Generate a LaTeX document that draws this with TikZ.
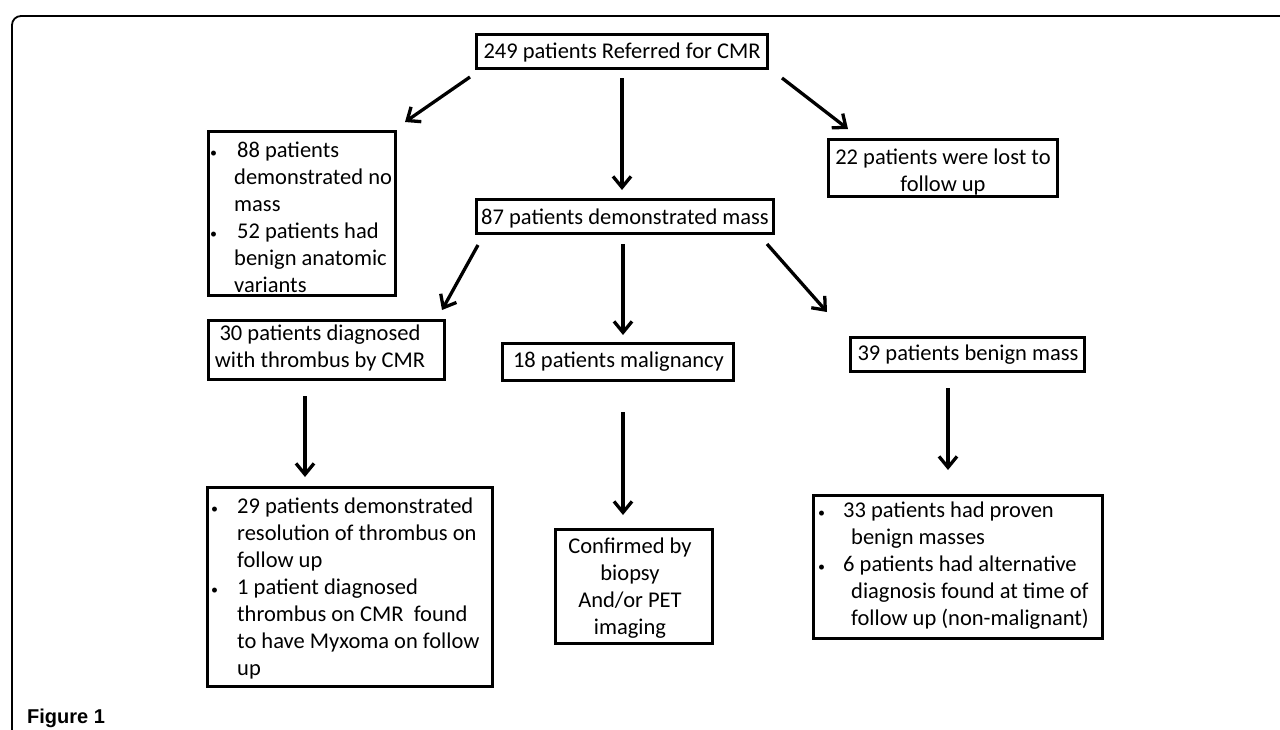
\documentclass[tikz,border=0pt]{standalone}
\usepackage{fontspec}
\setmainfont{Carlito}
\newfontfamily\figfont{Liberation Sans}
\usetikzlibrary{arrows.meta}
\newcommand\bul[1]{\llap{\makebox[#1][l]{\fontsize{14}{14}\selectfont\textbullet}}}
\begin{document}
\begin{tikzpicture}[x=1pt,y=-1pt,
  box/.style={draw=black,line width=3pt,inner sep=0pt,rectangle},
  txt/.style={inner sep=0pt,font=\fontsize{22.5}{27}\selectfont,text=black},
  arr/.style={line width=3.3pt,-{Straight Barb[length=11pt,width=18pt]}},
  frame/.style={line width=1.8pt,rounded corners=9pt}]
\useasboundingbox[fill=white] (0,0) rectangle (1280,729);
% outer frame
\draw[frame] (12,740) -- (12,16) -- (1290,16);
% boxes
\node[box,minimum width=291pt,minimum height=34pt] (top) at (622,51.5) {};
\node[box,minimum width=187pt,minimum height=164pt] (nomass) at (302,213.5) {};
\node[box,minimum width=229pt,minimum height=57pt] (lost) at (943,168) {};
\node[box,minimum width=297pt,minimum height=34pt] (mass) at (625,216.5) {};
\node[box,minimum width=236pt,minimum height=59pt] (thromb) at (326.5,350) {};
\node[box,minimum width=231pt,minimum height=37pt] (malig) at (618,362) {};
\node[box,minimum width=234pt,minimum height=34pt] (benign) at (967.5,354.5) {};
\node[box,minimum width=285pt,minimum height=199pt] (res) at (350,587) {};
\node[box,minimum width=157pt,minimum height=114pt] (conf) at (634,586.5) {};
\node[box,minimum width=289pt,minimum height=143pt] (proven) at (958,567) {};
% texts
\node[txt,anchor=base] (top-t) at (622,58.5) {249 patients Referred for CMR};
\node[txt,anchor=base] (mass-t) at (625,224) {87 patients demonstrated mass};
\node[txt,anchor=base] (lost-t) at (943,164) {\begin{tabular}[t]{@{}c@{}}22 patients were lost to\\follow up\end{tabular}};
\node[txt,anchor=base] (thromb-t) at (320,340.5) {\begin{tabular}[t]{@{}c@{}}30 patients diagnosed\\with thrombus by CMR\end{tabular}};
\node[txt,anchor=base] (malig-t) at (618.5,367) {18 patients malignancy};
\node[txt,anchor=base] (benign-t) at (968,360) {39 patients benign mass};
\node[txt,anchor=base] (conf-t) at (630,553) {\begin{tabular}[t]{@{}c@{}}Confirmed by\\biopsy\\And/or PET\\imaging\end{tabular}};
\node[txt,anchor=base west] (nomass-t) at (234,157) {\begin{tabular}[t]{@{}l@{}}\bul{24pt}\hspace{3pt}88 patients\\demonstrated no\\mass\\\bul{24pt}\hspace{3pt}52 patients had\\benign anatomic\\variants\end{tabular}};
\node[txt,anchor=base west] (res-t) at (237,513) {\begin{tabular}[t]{@{}l@{}}\bul{26pt}29 patients demonstrated\\resolution of thrombus on\\follow up\\\bul{26pt}1 patient diagnosed\\thrombus on CMR\ \ found\\to have Myxoma on follow\\up\end{tabular}};
\node[txt,anchor=base west] (proven-t) at (843,517) {\begin{tabular}[t]{@{}l@{}}\bul{25pt}33 patients had proven\\\hspace{8pt}benign masses\\\bul{25pt}6 patients had alternative\\\hspace{8pt}diagnosis found at time of\\\hspace{8pt}follow up (non-malignant)\end{tabular}};
% arrows
\draw[arr] ([shift={(-5,7)}]top.south west) -- ([shift={(8,-8)}]nomass.north east);
\draw[arr] ([shift={(0,8)}]top.south) -- ([shift={(-3,-8)}]mass.north);
\draw[arr] ([shift={(13,8)}]top.south east) -- ([shift={(21,-9)}]lost.north west);
\draw[arr] ([shift={(3,10)}]mass.south west) -- ([shift={(-4,-9)}]thromb.north east);
\draw[arr] ([shift={(-2,9)}]mass.south) -- ([shift={(5,-7)}]malig.north);
\draw[arr] ([shift={(-8,9)}]mass.south east) -- ([shift={(-22,-24)}]benign.north west);
\draw[arr] ([shift={(-21.5,15)}]thromb.south) -- ([shift={(-45,-9)}]res.north);
\draw[arr] ([shift={(5,30)}]malig.south) -- ([shift={(-11,-13)}]conf.north);
\draw[arr] ([shift={(-19.5,15)}]benign.south) -- ([shift={(-10,-24)}]proven.north);
% caption
\node[anchor=base west,inner sep=0pt,font={\figfont\bfseries\fontsize{20}{24}\selectfont}] (fig) at (27,723) {Figure 1};
\end{tikzpicture}
\end{document}
